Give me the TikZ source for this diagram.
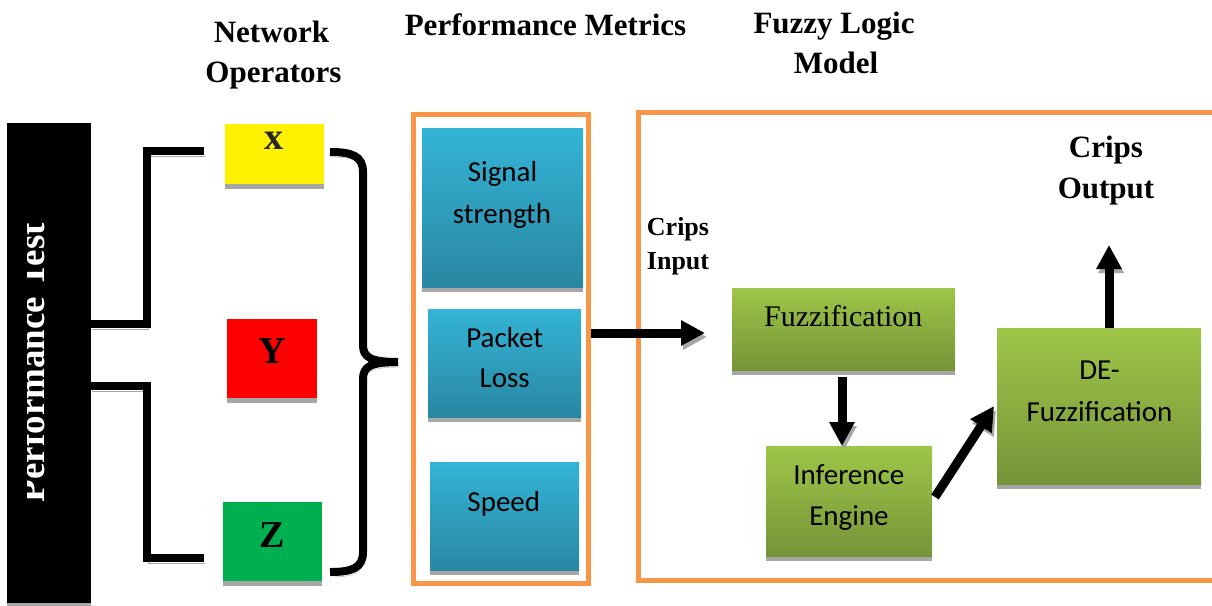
\documentclass[tikz,border=0pt]{standalone}
\usepackage{fontspec}
\setmainfont{Liberation Serif}
\newfontfamily\calfont{Carlito}
\usetikzlibrary{arrows.meta,shadows,calc}
\definecolor{orng}{HTML}{F79646}
\definecolor{shd}{HTML}{A6A6A6}
\definecolor{bluetop}{RGB}{52,180,214}
\definecolor{bluebot}{RGB}{41,135,162}
\definecolor{greentop}{RGB}{158,198,72}
\definecolor{greenbot}{RGB}{117,148,57}
\definecolor{grn}{HTML}{00B050}
\begin{document}
\begin{tikzpicture}[x=1pt,y=-1pt,
  box/.style={rectangle, inner sep=0pt, outer sep=0pt, draw=none,
    drop shadow={shadow xshift=0pt, shadow yshift=-5pt, fill=shd, opacity=1}},
  bluebox/.style={box, top color=bluetop, middle color=bluetop!70!bluebot, bottom color=bluebot},
  greenbox/.style={box, top color=greentop, middle color=greentop!70!greenbot, bottom color=greenbot},
  frame/.style={draw=orng, line width=5pt, inner sep=0pt, fill=none},
  hdr/.style={font=\bfseries\fontsize{31}{36}\selectfont, anchor=base, inner sep=0pt},
  big/.style={font=\bfseries\fontsize{38}{42}\selectfont, anchor=base, inner sep=0pt},
  sans/.style={font=\calfont\fontsize{29}{35}\selectfont, anchor=base, inner sep=0pt},
  brk/.style={line width=8pt, line join=miter, line cap=butt,
    preaction={draw=shd, transform canvas={xshift=1pt,yshift=-5pt}}},
  bigarrow/.style={line width=9pt, -{Triangle[width=24pt,length=24pt]},
    preaction={draw=shd, transform canvas={xshift=2pt,yshift=-4pt}}}
]
\useasboundingbox (0,0) rectangle (1212,605);
\fill[white] (0,0) rectangle (1212,605);

% headers
\node[hdr] (h1a) at (271.5,42) {Network};
\node[hdr] (h1b) at (273.5,82) {Operators};
\node[hdr] (h2) at (545.5,35) {Performance Metrics};
\node[hdr] (h3a) at (834,33) {Fuzzy Logic};
\node[hdr] (h3b) at (836,73) {Model};

% performance test block
\node[box, fill=black, minimum width=84pt, minimum height=480pt] (pt) at (49,363) {};
\begin{scope}
\clip (27,123) rectangle (91,603);
\node[rotate=90, anchor=base, text=white, inner sep=0pt,
  font=\bfseries\fontsize{37}{40}\selectfont] (ptt) at (44.5,362.5) {Performance Test};
\end{scope}

% operators
\node[box, fill=yellow, minimum width=99pt, minimum height=60pt] (nx) at (274.5,154) {};
\node[box, fill=red, minimum width=90pt, minimum height=79pt] (ny) at (272,358.5) {};
\node[box, fill=grn, minimum width=99pt, minimum height=79pt] (nz) at (272.5,541.5) {};
\node[big, text=black!85] (tx) at (274,149) {x};
\node[big] (ty) at (272,363) {Y};
\node[big] (tz) at (271.7,547) {Z};

% brackets
\coordinate (ux) at (204,151);
\coordinate (lz) at (204,558);
\draw[brk] ([yshift=39pt]pt.east) -| (147,151) -- (ux);
\draw[brk] ([yshift=-23pt]pt.east) -| (147,558) -- (lz);

% curly brace
\coordinate (bt) at (330,152);
\coordinate (bm) at (398,362);
\coordinate (bb) at (330,572);
\draw[brk] (bt) .. controls (352,152) and (363,156) .. (363,172) -- (363,345)
  .. controls (363,357) and (370,362) .. (bm);
\draw[brk] (bb) .. controls (352,572) and (363,568) .. (363,552) -- (363,379)
  .. controls (363,367) and (370,362) .. (bm);

% metrics
\node[frame, minimum width=175pt, minimum height=469pt] (om) at (501,348.5) {};
\node[bluebox, minimum width=161pt, minimum height=159pt] (ss) at (502.5,207.5) {};
\node[bluebox, minimum width=153pt, minimum height=108pt] (pl) at (504.5,363) {};
\node[bluebox, minimum width=149pt, minimum height=108pt] (sp) at (504.5,516) {};
\node[sans] (ss1) at (502.5,181) {Signal};
\node[sans] (ss2) at (502,223) {strength};
\node[sans] (pl1) at (504.7,347) {Packet};
\node[sans] (pl2) at (504.7,387) {Loss};
\node[sans] (sp1) at (503.8,511) {Speed};

% fuzzy model frame
\node[frame, minimum width=586.5pt, minimum height=468.5pt] (fm) at (931.75,346.25) {};
\node[font=\bfseries\fontsize{26}{30}\selectfont, anchor=base, inner sep=0pt] (ci1) at (678,235) {Crips};
\node[font=\bfseries\fontsize{26}{30}\selectfont, anchor=base, inner sep=0pt] (ci2) at (678,269) {Input};
\node[hdr] (co1) at (1106,157) {Crips};
\node[hdr] (co2) at (1106,198) {Output};

\node[greenbox, minimum width=223pt, minimum height=82pt] (fz) at (843.5,329) {};
\node[greenbox, minimum width=166pt, minimum height=110pt] (ie) at (849,501) {};
\node[greenbox, minimum width=204pt, minimum height=156pt] (de) at (1099,406) {};
\node[font=\fontsize{30}{35}\selectfont, anchor=base, inner sep=0pt] (fzt) at (843.3,326) {Fuzzification};
\node[sans] (ie1) at (848.8,484) {Inference};
\node[sans] (ie2) at (849,525) {Engine};
\node[sans] (de1) at (1099.5,379) {DE-};
\node[sans] (de2) at (1099.5,421) {Fuzzification};

% arrows
\coordinate (ci) at (705,333);
\draw[bigarrow] (om.east |- ci) -- (ci);
\draw[bigarrow] ([xshift=-1.5pt,yshift=-7pt]fz.south) -- ([xshift=-1.5pt]fz.south |- ie.north);
\draw[bigarrow] ([xshift=3pt,yshift=4pt]ie.east) -- ([xshift=-3pt]de.west);
\coordinate (out) at (1109,245);
\draw[bigarrow] (de.north -| out) -- (out);
\end{tikzpicture}
\end{document}
